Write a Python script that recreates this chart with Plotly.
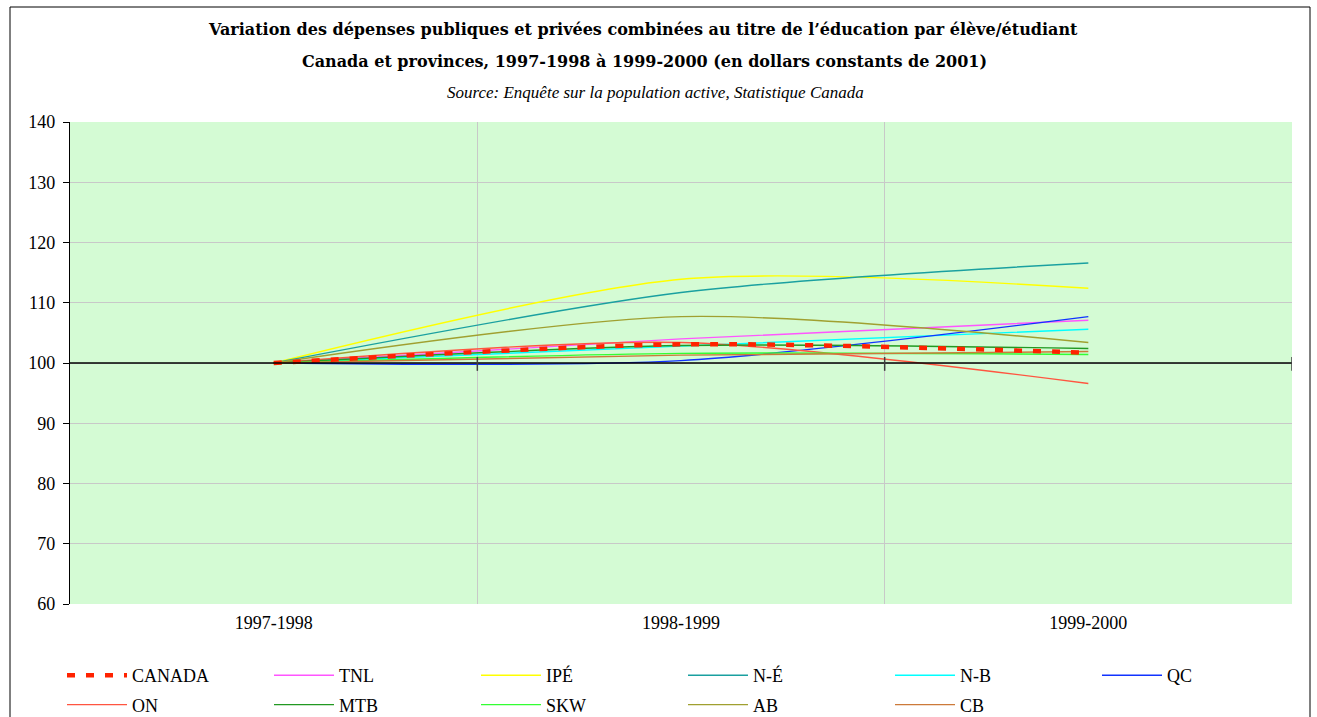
import plotly.graph_objects as go

categories = ["1997-1998", "1998-1999", "1999-2000"]

series_names = ["CANADA", "TNL", "IPÉ", "N-É", "N-B", "QC",
                "ON", "MTB", "SKW", "AB", "CB"]

canada = [100.0, 103.1, 101.7]
tnl = [100.0, 104.0, 107.1]
ipe = [100.0, 113.9, 112.4]
ne = [100.0, 111.7, 116.6]
nb = [100.0, 102.8, 105.6]
qc = [100.0, 100.4, 107.7]
on = [100.0, 103.4, 96.6]
mtb = [100.0, 102.9, 102.4]
skw = [100.0, 101.6, 101.4]
ab = [100.0, 107.7, 103.4]
cb = [100.0, 101.3, 101.9]

series_values = [canada, tnl, ipe, ne, nb, qc, on, mtb, skw, ab, cb]

colors = ["#FF2200", "#FF55FF", "#FFFF00", "#1AA0A0", "#00FFFF", "#1133FF",
          "#FF5540", "#229922", "#33FF33", "#A0A030", "#CC7A3A"]

y_ticks = [60, 70, 80, 90, 100, 110, 120, 130, 140]

title_1 = "Variation des dépenses publiques et privées combinées au titre de l’éducation par élève/étudiant"
title_2 = "Canada et provinces, 1997-1998 à 1999-2000 (en dollars constants de 2001)"
title_3 = "Source: Enquête sur la population active, Statistique Canada"

FONT = "Liberation Serif"
TFONT = "DejaVu Serif"

W, H = 1317, 717
ML, MR, MT, MB = 70, 25, 122, 113
PW, PH = W - ML - MR, H - MT - MB
N_COLS = 6
ITEMW = 60


def py(pix):
    return (MT + PH - pix) / PH


def px(pix):
    return (pix - ML) / PW


legend_ids = ["legend"] + ["legend%d" % k for k in range(2, N_COLS + 1)]

fig = go.Figure()
order = list(range(1, len(series_names))) + [0]  # draw CANADA last (on top)
for i in order:
    name, vals, col = series_names[i], series_values[i], colors[i]
    if name == "CANADA":
        line = dict(color=col, width=4.5, dash="8px,11px", shape="spline", smoothing=0.8)
    else:
        line = dict(color=col, width=1.4, shape="spline", smoothing=0.8)
    fig.add_trace(go.Scatter(
        x=categories, y=vals, name=name, mode="lines", line=line,
        legendrank=i + 1, legendgroup=name,
        legend=legend_ids[i % N_COLS],
    ))

fig.add_shape(type="line", xref="paper", yref="y", x0=0, x1=1, y0=100, y1=100,
              line=dict(color="black", width=1.3), layer="above")
# category boundary tick marks on the crossing axis
for b in [0.5, 1.5, 2.5]:
    fig.add_shape(type="line", xref="x", yref="y", x0=b, x1=b, y0=98.7, y1=101.0,
                  line=dict(color="#404040", width=1.5), layer="above")

# outer frame
fig.add_shape(type="rect", xref="paper", yref="paper",
              x0=px(10), x1=px(1310), y0=py(H + 5), y1=py(7),
              line=dict(color="black", width=1), fillcolor="rgba(0,0,0,0)")

fig.add_annotation(text="<b>" + title_1 + "</b>", xref="paper", yref="paper",
                   x=px(643), y=py(29), yanchor="middle", showarrow=False,
                   font=dict(family=TFONT, size=16, color="black"))
fig.add_annotation(text="<b>" + title_2 + "</b>", xref="paper", yref="paper",
                   x=px(644), y=py(61), yanchor="middle", showarrow=False,
                   font=dict(family=TFONT, size=16, color="black"))
fig.add_annotation(text="<i>" + title_3 + "</i>", xref="paper", yref="paper",
                   x=px(655), y=py(92), yanchor="middle", showarrow=False,
                   font=dict(family=FONT, size=17, color="black"))

legend_layout = {}
text_x0, col_step = 133, 207
for c, lid in enumerate(legend_ids):
    left = text_x0 + c * col_step - (ITEMW + 11)
    legend_layout[lid] = dict(
        orientation="v", xanchor="left", yanchor="top",
        xref="paper", yref="container",
        x=px(left), y=1 - 657 / H,
        itemwidth=ITEMW, tracegroupgap=3,
        bgcolor="rgba(0,0,0,0)",
        font=dict(family=FONT, size=18, color="black"))

fig.update_layout(
    width=W, height=H,
    margin=dict(l=ML, r=MR, t=MT, b=MB),
    paper_bgcolor="white",
    plot_bgcolor="#D4FBD4",
    font=dict(family=FONT, size=18, color="black"),
    showlegend=True,
    xaxis=dict(type="category", range=[-0.5, 2.5], tickson="boundaries",
               showgrid=True, gridcolor="#C8C8C8", gridwidth=1,
               ticks="", showline=False, zeroline=False,
               tickfont=dict(family=FONT, size=18, color="black"), ticklabelstandoff=6),
    yaxis=dict(range=[60, 140], tickvals=y_ticks, showgrid=True,
               gridcolor="#C8C8C8", gridwidth=1, ticks="outside", ticklen=6,
               tickcolor="black", showline=True, linecolor="black", linewidth=1.2,
               zeroline=False, ticklabelstandoff=4,
               tickfont=dict(family=FONT, size=18, color="black")),
    **legend_layout,
)

fig.write_html("out.html", config={"displayModeBar": False},
               post_script="document.body.style.margin='0';")
